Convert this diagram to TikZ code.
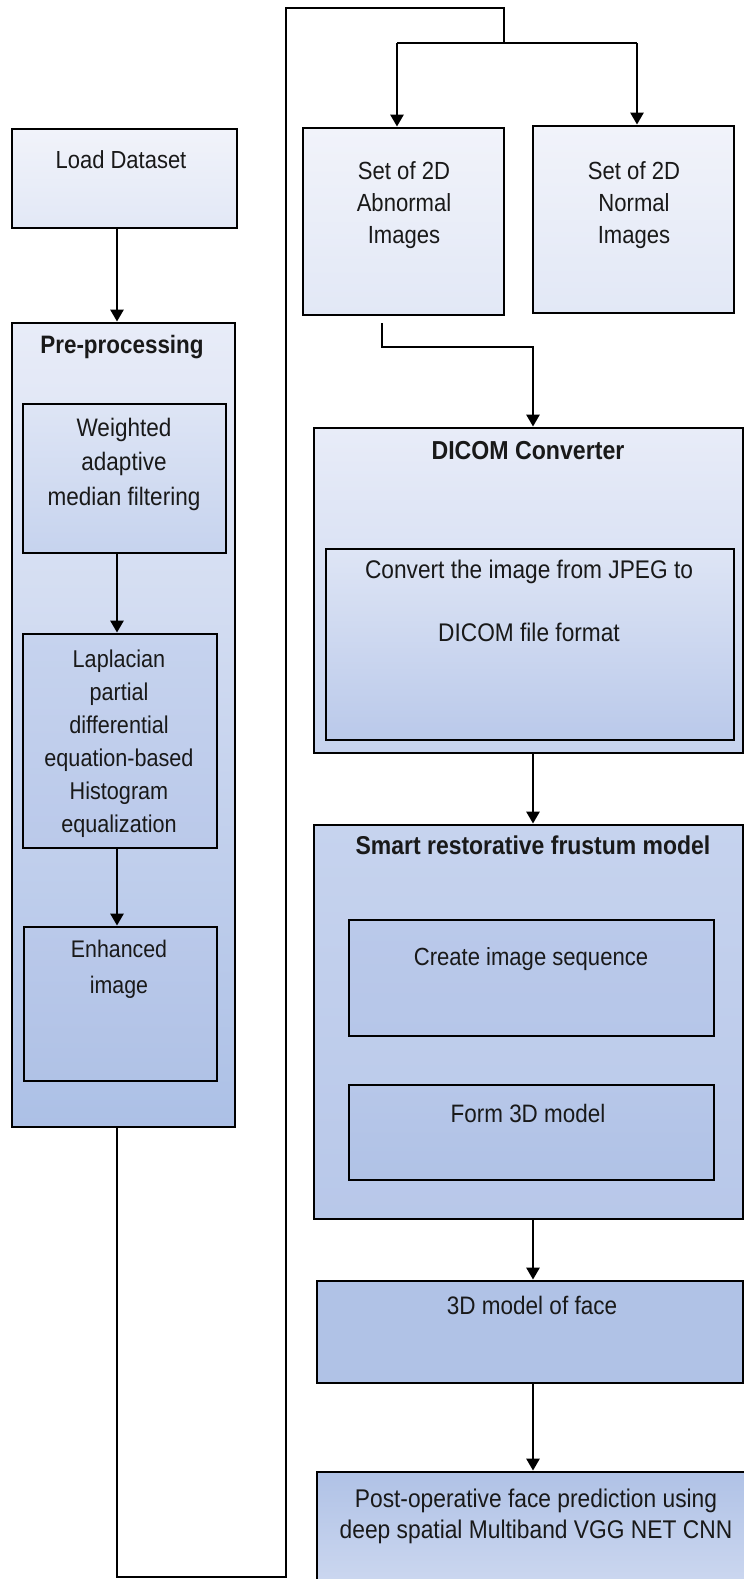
\documentclass[tikz,border=0pt]{standalone}
\usepackage{fontspec}
\setmainfont{Liberation Sans}
\newfontfamily\nf[FakeStretch=0.89]{Liberation Sans}
\usetikzlibrary{arrows.meta,fit,shadings}
\definecolor{lt1}{RGB}{241,243,250}
\definecolor{lt2}{RGB}{226,232,246}
\definecolor{bA}{RGB}{232,236,248}
\definecolor{bB}{RGB}{172,192,230}
\definecolor{bC}{RGB}{222,229,245}
\definecolor{bD}{RGB}{198,211,238}
\definecolor{bE}{RGB}{186,201,234}
\definecolor{bF}{RGB}{176,194,230}
\definecolor{bG}{RGB}{205,216,240}
\begin{document}
\begin{tikzpicture}[x=1pt,y=-1pt,
  bx/.style={draw=black, line width=2.8pt, inner sep=0pt},
  ln/.style={draw=black, line width=2.6pt},
  arr/.style={ln, -{Triangle[width=13pt,length=12pt]}},
  tn/.style={inner sep=0pt, align=center, text=black!90, font=\nf\fontsize{#1}{34}\selectfont}]
\useasboundingbox (0,0) rectangle (744,1579);
\clip (0,0) rectangle (744,1579);
\fill[white] (0,0) rectangle (744,1579);

% coordinates for connector columns
\coordinate (xl) at (117,0);
\coordinate (xa) at (397,0);
\coordinate (xn) at (637,0);
\coordinate (xd) at (533,0);

% left column
\node[bx, top color=lt1, bottom color=lt2, fit={(12,129) (237,228)}] (load) {};
\node[bx, top color=bA, bottom color=bB, fit={(12,323) (235,1127)}] (pre) {};
\node[bx, top color=bC, bottom color=bD, fit={(23,404) (226,553)}] (wam) {};
\node[bx, top color=bD, bottom color=bE, fit={(23,634) (217,848)}] (lap) {};
\node[bx, top color=bE, bottom color=bF, fit={(24,927) (217,1081)}] (enh) {};

% right column
\node[bx, top color=lt1, bottom color=lt2, fit={(303,128) (504,315)}] (abn) {};
\node[bx, top color=lt1, bottom color=lt2, fit={(533,126) (734,313)}] (nor) {};
\node[bx, top color=bA, bottom color=bD, fit={(314,428) (743,753)}] (dicom) {};
\node[bx, top color=bC, bottom color=bE, fit={(326,549) (734,740)}] (conv) {};
\node[bx, top color=bD, bottom color=bE!80!bF, fit={(314,825) (743,1219)}] (smart) {};
\node[bx, top color=bE, bottom color=bE!60!bF, fit={(349,920) (714,1036)}] (create) {};
\node[bx, top color=bE!70!bF, bottom color=bF, fit={(349,1085) (714,1180)}] (form) {};
\node[bx, fill=bF, fit={(317,1281) (743,1383)}] (face) {};
\node[bx, top color=bF, bottom color=bG, fit={(317,1472) (746,1590)}] (post) {};

% texts
\node[tn=24.7] (tload) at (121,160) {Load Dataset};
\node[tn=24.8, font=\nf\fontsize{24.8}{32}\selectfont] (tabn) at (404,205) {Set of 2D\\Abnormal\\Images};
\node[tn=24.8, font=\nf\fontsize{24.8}{32}\selectfont] (tnor) at (634,205) {Set of 2D\\Normal\\Images};
\node[tn=25.2, font=\nf\bfseries\fontsize{25.2}{32}\selectfont] (tpre) at (122,347) {Pre-processing};
\node[tn=25.3, font=\nf\fontsize{25.3}{34.5}\selectfont] (twam) at (124,464) {Weighted\\adaptive\\median filtering};
\node[tn=24.3, font=\nf\fontsize{24.3}{33}\selectfont] (tlap) at (119,744) {Laplacian\\partial\\differential\\equation-based\\Histogram\\equalization};
\node[tn=24, font=\nf\fontsize{24}{36}\selectfont] (tenh) at (119,969) {Enhanced\\image};
\node[tn=26, font=\nf\bfseries\fontsize{26}{32}\selectfont] (tdic) at (528,451) {DICOM Converter};
\node[tn=25.5, font=\nf\fontsize{25.5}{63}\selectfont] (tconv) at (529,601) {Convert the image from JPEG to\\DICOM file format};
\node[tn=25.8, font=\nf\bfseries\fontsize{25.8}{30}\selectfont] (tsmart) at (533,845) {Smart restorative frustum model};
\node[tn=24.8] (tcreate) at (531,959) {Create image sequence};
\node[tn=25.2] (tform) at (528,1113) {Form 3D model};
\node[tn=25.3] (tface) at (532,1305) {3D model of face};
\node[tn=25.6, font=\nf\fontsize{25.6}{31}\selectfont] (tpost) at (536,1516) {Post-operative face prediction using\\deep spatial Multiband VGG NET CNN};

% connectors
\draw[arr] (load.south -| xl) -- (pre.north -| xl);
\draw[arr] (wam.south -| xl) -- (lap.north -| xl);
\draw[arr] (lap.south -| xl) -- (enh.north -| xl);

\coordinate (bl) at (117,1577);
\coordinate (br) at (286,1577);
\coordinate (tl) at (286,8);
\coordinate (trr) at (504,8);
\coordinate (sp) at (504,43);
\coordinate (hl) at (397,43);
\coordinate (hr) at (637,43);
\draw[ln, line join=miter] (pre.south -| xl) -- (bl) -- (br) -- (tl) -- (trr) -- (sp);
\draw[ln] (hl) -- (hr);
\draw[arr] (hl) -- (abn.north -| xa);
\draw[arr] (hr) -- (nor.north -| xn);

\coordinate (abnout) at (382,323);
\coordinate (bend) at (458,347);
\draw[arr] (abnout) |- (bend) -| (dicom.north -| xd);
\draw[arr] (dicom.south -| xd) -- (smart.north -| xd);
\draw[arr] (smart.south -| xd) -- (face.north -| xd);
\draw[arr] (face.south -| xd) -- (post.north -| xd);
\end{tikzpicture}
\end{document}
